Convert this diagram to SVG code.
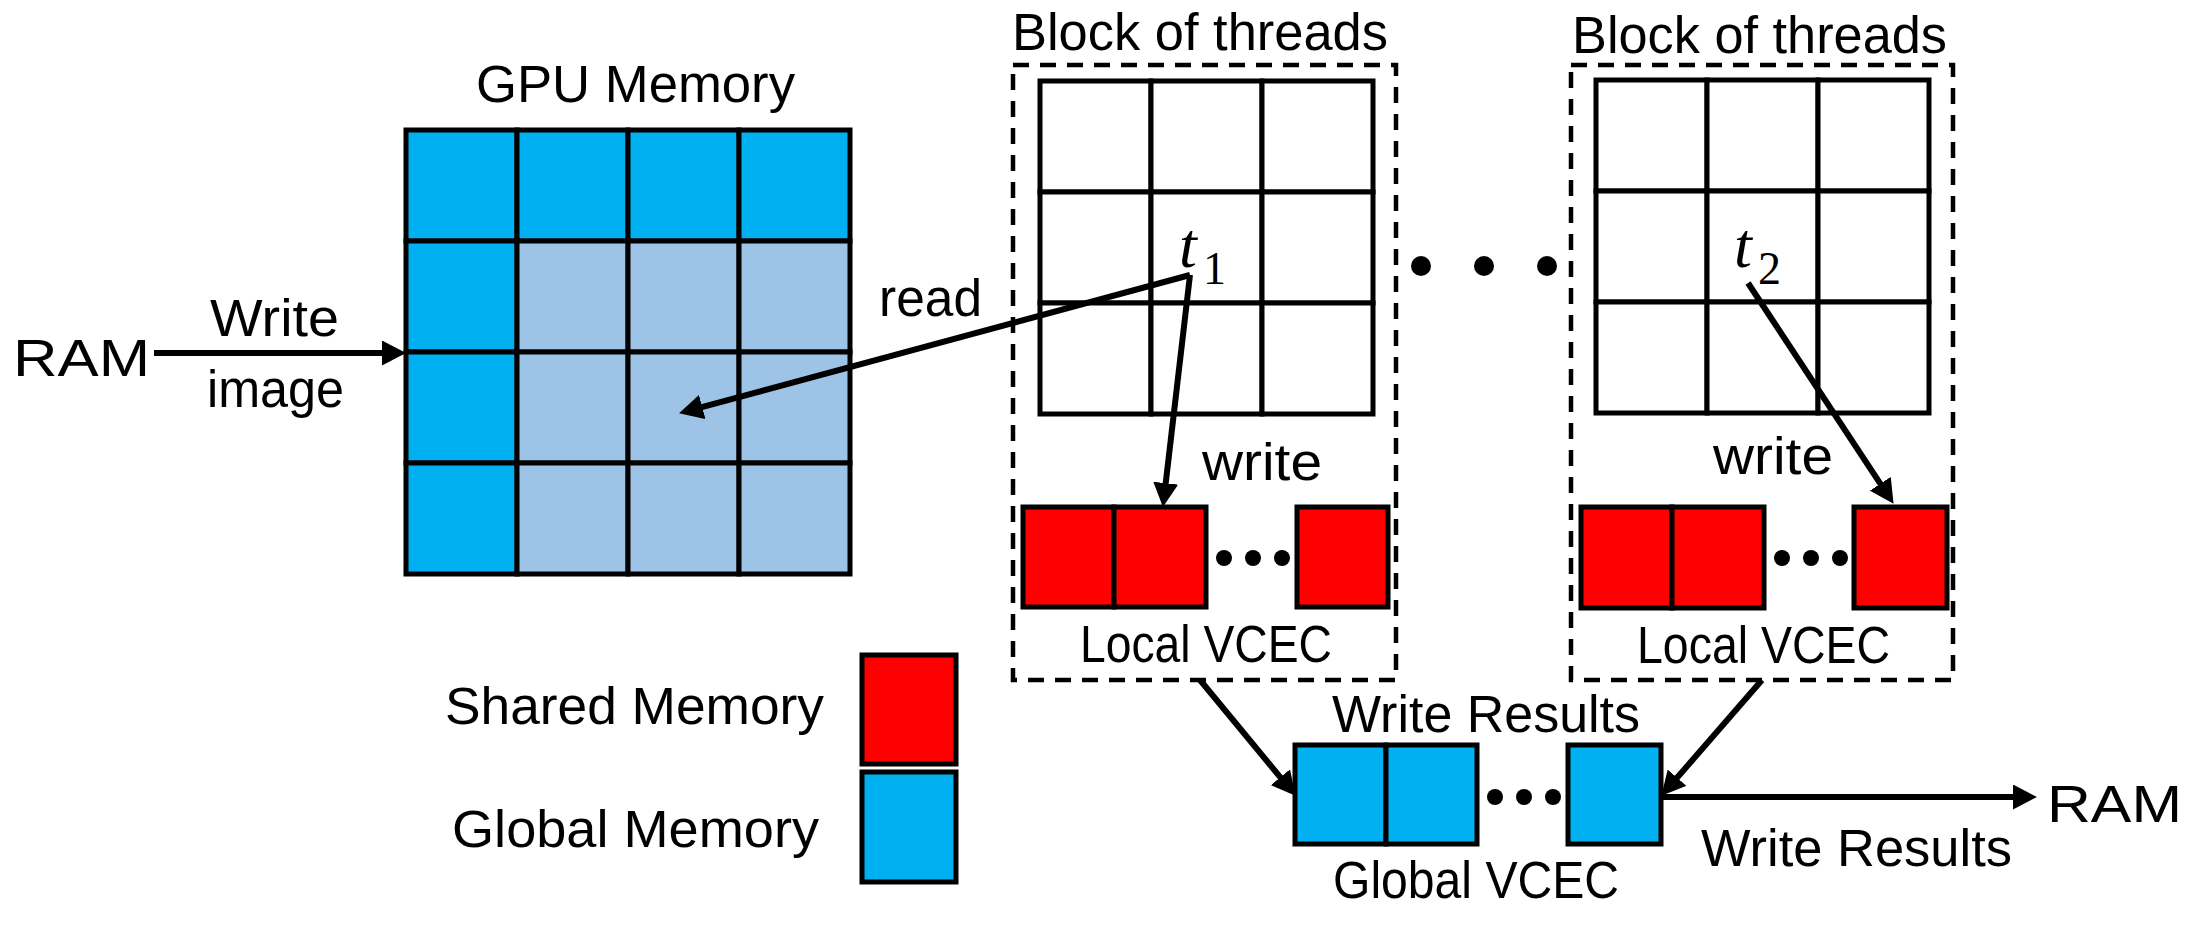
<svg xmlns="http://www.w3.org/2000/svg" width="2190" height="930" viewBox="0 0 2190 930">
<defs>
<marker id="ah" markerUnits="userSpaceOnUse" markerWidth="25" markerHeight="25" refX="13" refY="12.5" orient="auto">
<path d="M0,0 L24,12.5 L0,25 z" fill="#000"/>
</marker>
<style>
text{font-family:"Liberation Sans",Arial,sans-serif;fill:#000;font-size:51px}
.cell{stroke:#000;stroke-width:5}
.cy{fill:#00B0F0}
.lb{fill:#9DC3E6}
.rd{fill:#FF0000}
.wt{fill:#fff}
.dash{fill:none;stroke:#000;stroke-width:4.5;stroke-dasharray:16 11}
.conn{stroke:#000;stroke-width:6;fill:none;marker-end:url(#ah)}
.math{font-family:"Liberation Serif","Times New Roman",serif;font-style:italic;font-size:64px}
.sub{font-family:"Liberation Serif","Times New Roman",serif;font-size:46px}
</style>
</defs>
<rect width="2190" height="930" fill="#fff"/>

<g id="ram-left"><text x="13" y="376" font-size="64" textLength="137" lengthAdjust="spacingAndGlyphs">RAM</text></g>

<g id="gpu-memory">
<text x="476" y="102" textLength="319" lengthAdjust="spacingAndGlyphs">GPU Memory</text>
<rect class="cell cy" x="406" y="130" width="111" height="111"/>
<rect class="cell cy" x="517" y="130" width="111" height="111"/>
<rect class="cell cy" x="628" y="130" width="111" height="111"/>
<rect class="cell cy" x="739" y="130" width="111" height="111"/>
<rect class="cell cy" x="406" y="241" width="111" height="111"/>
<rect class="cell lb" x="517" y="241" width="111" height="111"/>
<rect class="cell lb" x="628" y="241" width="111" height="111"/>
<rect class="cell lb" x="739" y="241" width="111" height="111"/>
<rect class="cell cy" x="406" y="352" width="111" height="111"/>
<rect class="cell lb" x="517" y="352" width="111" height="111"/>
<rect class="cell lb" x="628" y="352" width="111" height="111"/>
<rect class="cell lb" x="739" y="352" width="111" height="111"/>
<rect class="cell cy" x="406" y="463" width="111" height="111"/>
<rect class="cell lb" x="517" y="463" width="111" height="111"/>
<rect class="cell lb" x="628" y="463" width="111" height="111"/>
<rect class="cell lb" x="739" y="463" width="111" height="111"/>
</g>

<g id="block1">
<text x="1012" y="50" font-size="52" textLength="376" lengthAdjust="spacingAndGlyphs">Block of threads</text>
<rect class="dash" x="1013" y="65" width="383" height="615"/>
<rect class="cell wt" x="1040" y="81" width="111" height="111"/>
<rect class="cell wt" x="1151" y="81" width="111" height="111"/>
<rect class="cell wt" x="1262" y="81" width="111" height="111"/>
<rect class="cell wt" x="1040" y="192" width="111" height="111"/>
<rect class="cell wt" x="1151" y="192" width="111" height="111"/>
<rect class="cell wt" x="1262" y="192" width="111" height="111"/>
<rect class="cell wt" x="1040" y="303" width="111" height="111"/>
<rect class="cell wt" x="1151" y="303" width="111" height="111"/>
<rect class="cell wt" x="1262" y="303" width="111" height="111"/>
<text class="math" x="1179" y="267">t</text><text class="sub" x="1203" y="284">1</text>
<text x="1202" y="480" textLength="120" lengthAdjust="spacingAndGlyphs">write</text>
<rect class="cell rd" x="1023" y="507" width="91" height="100"/>
<rect class="cell rd" x="1114" y="507" width="92" height="100"/>
<circle cx="1224" cy="558" r="8"/><circle cx="1253" cy="558" r="8"/><circle cx="1282" cy="558" r="8"/>
<rect class="cell rd" x="1297" y="507" width="91" height="100"/>
<text x="1080" y="662" textLength="252" lengthAdjust="spacingAndGlyphs">Local VCEC</text>
</g>

<g id="between-dots">
<circle cx="1421" cy="266" r="10"/><circle cx="1484" cy="266" r="10"/><circle cx="1547" cy="266" r="10"/>
</g>

<g id="block2">
<text x="1572" y="53" font-size="52" textLength="375" lengthAdjust="spacingAndGlyphs">Block of threads</text>
<rect class="dash" x="1571" y="65" width="382" height="615"/>
<rect class="cell wt" x="1596" y="80" width="111" height="111"/>
<rect class="cell wt" x="1707" y="80" width="111" height="111"/>
<rect class="cell wt" x="1818" y="80" width="111" height="111"/>
<rect class="cell wt" x="1596" y="191" width="111" height="111"/>
<rect class="cell wt" x="1707" y="191" width="111" height="111"/>
<rect class="cell wt" x="1818" y="191" width="111" height="111"/>
<rect class="cell wt" x="1596" y="302" width="111" height="111"/>
<rect class="cell wt" x="1707" y="302" width="111" height="111"/>
<rect class="cell wt" x="1818" y="302" width="111" height="111"/>
<text class="math" x="1734" y="267">t</text><text class="sub" x="1758" y="284">2</text>
<text x="1713" y="474" textLength="120" lengthAdjust="spacingAndGlyphs">write</text>
<rect class="cell rd" x="1581" y="507" width="91" height="101"/>
<rect class="cell rd" x="1672" y="507" width="92" height="101"/>
<circle cx="1782" cy="558" r="8"/><circle cx="1811" cy="558" r="8"/><circle cx="1840" cy="558" r="8"/>
<rect class="cell rd" x="1854" y="507" width="93" height="101"/>
<text x="1637" y="663" textLength="253" lengthAdjust="spacingAndGlyphs">Local VCEC</text>
</g>

<g id="global-vcec">
<text x="1332" y="732" textLength="308" lengthAdjust="spacingAndGlyphs">Write Results</text>
<rect class="cell cy" x="1295" y="745" width="91" height="99"/>
<rect class="cell cy" x="1386" y="745" width="91" height="99"/>
<circle cx="1495" cy="797" r="8"/><circle cx="1524" cy="797" r="8"/><circle cx="1553" cy="797" r="8"/>
<rect class="cell cy" x="1568" y="745" width="93" height="99"/>
<text x="1333" y="898" textLength="286" lengthAdjust="spacingAndGlyphs">Global VCEC</text>
</g>

<g id="ram-right"><text x="2047" y="822" font-size="64" textLength="135" lengthAdjust="spacingAndGlyphs">RAM</text></g>

<g id="legend">
<text x="445" y="724" textLength="379" lengthAdjust="spacingAndGlyphs">Shared Memory</text>
<rect class="cell rd" x="862" y="655" width="94" height="109"/>
<text x="452" y="847" textLength="367" lengthAdjust="spacingAndGlyphs">Global Memory</text>
<rect class="cell cy" x="862" y="772" width="94" height="110"/>
</g>

<g id="connectors">
<line class="conn" x1="154" y1="353" x2="395" y2="353"/>
<text x="210" y="336" textLength="129" lengthAdjust="spacingAndGlyphs">Write</text>
<text x="207" y="407" textLength="137" lengthAdjust="spacingAndGlyphs">image</text>
<line class="conn" x1="1190" y1="275" x2="689.7" y2="410.4"/>
<text x="879" y="316" textLength="103" lengthAdjust="spacingAndGlyphs">read</text>
<line class="conn" x1="1190" y1="275" x2="1164.2" y2="496.1"/>
<line class="conn" x1="1748" y1="283" x2="1887.5" y2="494.6"/>
<line class="conn" x1="1200" y1="680" x2="1288.6" y2="787.3"/>
<line class="conn" x1="1762" y1="680" x2="1668.6" y2="787.5"/>
<line class="conn" x1="1662" y1="797" x2="2026" y2="797"/>
<text x="1701" y="866" textLength="311" lengthAdjust="spacingAndGlyphs">Write Results</text>
</g>
</svg>
